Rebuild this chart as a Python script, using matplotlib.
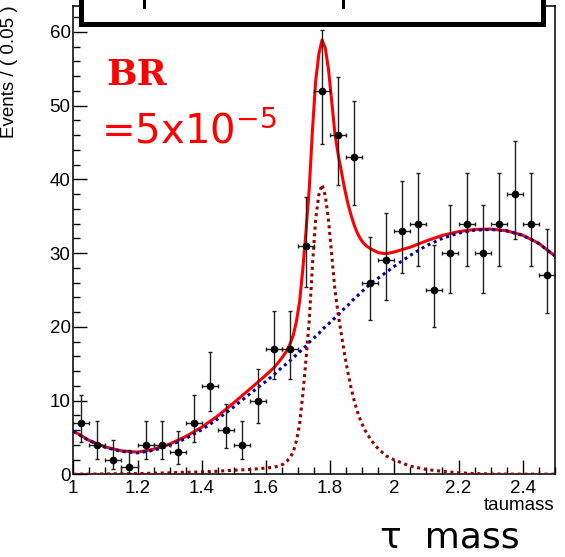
import math
import numpy as np
import matplotlib
matplotlib.use("Agg")
import matplotlib.pyplot as plt
from matplotlib.patches import Rectangle
from matplotlib.lines import Line2D
from matplotlib.ticker import MultipleLocator, FuncFormatter

plt.rcParams['font.family'] = ['Liberation Sans', 'DejaVu Sans']

# ---- data: events per 0.05 bin ----
bin_centers = [1.025, 1.075, 1.125, 1.175, 1.225, 1.275, 1.325, 1.375, 1.425, 1.475,
               1.525, 1.575, 1.625, 1.675, 1.725, 1.775, 1.825, 1.875, 1.925, 1.975,
               2.025, 2.075, 2.125, 2.175, 2.225, 2.275, 2.325, 2.375, 2.425, 2.475]
counts = [7, 4, 2, 1, 4, 4, 3, 7, 12, 6,
          4, 10, 17, 17, 31, 52, 46, 43, 26, 29,
          33, 34, 25, 30, 34, 30, 34, 38, 34, 27]

# ---- fit curves ----
curve_x = [1.00, 1.05, 1.10, 1.15, 1.20, 1.25, 1.30, 1.35, 1.40, 1.45, 1.50, 1.55, 1.60, 1.625,
           1.645, 1.655, 1.665, 1.675, 1.685, 1.695, 1.705, 1.715, 1.725, 1.735, 1.745, 1.755,
           1.765, 1.775, 1.785, 1.795, 1.805, 1.815, 1.825, 1.835, 1.845, 1.855, 1.865, 1.875,
           1.885, 1.895, 1.905, 1.915,
           1.93, 1.95, 1.975, 2.00, 2.05, 2.10, 2.15, 2.20, 2.25, 2.30, 2.35, 2.40, 2.45, 2.50]
bkg_y = [5.85, 4.55, 3.65, 3.10, 2.90, 3.25, 3.90, 4.85, 6.05, 7.50, 9.15, 10.9, 12.6, 13.5,
         14.3, 14.7, 15.0, 15.4, 15.8, 16.2, 16.6, 17.0, 17.4, 17.9, 18.3, 18.7,
         19.1, 19.6, 20.0, 20.4, 20.8, 21.2, 21.6, 22.1, 22.5, 22.9, 23.4, 23.8,
         24.2, 24.6, 25.0, 25.4,
         26.0, 26.6, 27.4, 28.2, 29.7, 31.0, 32.0, 32.7, 33.1, 33.2, 33.0, 32.4, 31.3, 29.6]
sig_y = [0.02, 0.03, 0.05, 0.08, 0.10, 0.15, 0.20, 0.27, 0.33, 0.42, 0.55, 0.65, 0.85, 0.95,
         1.2, 1.4, 1.75, 2.25, 3.0, 4.5, 6.8, 10.8, 15.6, 20.8, 28.3, 34.6,
         37.9, 39.3, 37.8, 34.5, 29.8, 25.0, 21.8, 19.0, 16.3, 13.9, 11.8, 10.0,
         8.5, 7.3, 6.3, 5.5,
         4.5, 3.45, 2.5, 1.95, 1.1, 0.65, 0.4, 0.2, 0.1, 0.05, 0.03, 0.02, 0.02, 0.02]

x_ticks = [1.0, 1.2, 1.4, 1.6, 1.8, 2.0, 2.2, 2.4]


def pois_cdf(n, mu):
    term = math.exp(-mu)
    total = term
    for k in range(1, n + 1):
        term *= mu / k
        total += term
    return total


def solve(f, lo, hi):
    for _ in range(100):
        mid = 0.5 * (lo + hi)
        if f(mid) > 0:
            lo = mid
        else:
            hi = mid
    return 0.5 * (lo + hi)


def poisson_interval(n, a=0.158655):
    top = n + 10 * math.sqrt(n + 1) + 10
    up = solve(lambda m: pois_cdf(n, m) - a, 0.0, top)
    low = 0.0 if n == 0 else solve(lambda m: a - (1 - pois_cdf(n - 1, m)), 0.0, top)
    return low, up


W, H = 565, 557
fig = plt.figure(figsize=(W / 100, H / 100), dpi=100)
ax = fig.add_axes([73.3 / W, 1 - 474.3 / H, (554.8 - 73.3) / W, (474.3 - 6) / H])

cx = np.array(curve_x)
bkg = np.array(bkg_y)
sig = np.array(sig_y)
total = bkg + sig

ax.plot(cx, total, color='#ff0000', lw=2.2, zorder=2)
ax.plot(cx, bkg, color='#0000a0', lw=2.2, dashes=(1.0, 1.2), dash_capstyle='butt', zorder=3)
ax.plot(cx, sig, color='#990000', lw=2.2, dashes=(1.0, 1.2), dash_capstyle='butt', zorder=3)

ylo, yhi = [], []
for n in counts:
    lo, up = poisson_interval(n)
    ylo.append(n - lo)
    yhi.append(up - n)
ax.errorbar(bin_centers, counts, xerr=0.025, yerr=[ylo, yhi], fmt='o', color='black',
            ms=4.5, elinewidth=1.0, ecolor='#202020', capsize=1.5, capthick=1.0, zorder=4)

ax.set_xlim(1.0, 2.5)
ax.set_ylim(0, 63.5)
ax.xaxis.set_major_locator(MultipleLocator(0.2))
ax.xaxis.set_minor_locator(MultipleLocator(0.05))
ax.yaxis.set_major_locator(MultipleLocator(10))
ax.yaxis.set_minor_locator(MultipleLocator(2))
ax.set_xticks(x_ticks)
ax.xaxis.set_major_formatter(FuncFormatter(lambda v, p: f'{v:g}'))
ax.tick_params(which='both', direction='in', top=False, right=False, width=1.0,
               labelsize=13.5)
ax.tick_params(which='major', length=10)
ax.tick_params(which='minor', length=5)
ax.tick_params(axis='x', pad=4)
ax.tick_params(axis='y', pad=2)
for s in ax.spines.values():
    s.set_linewidth(1.1)

fig.text(10 / W, 1 - 5 / H, 'Events / ( 0.05 )', rotation=90, ha='center', va='top',
         fontsize=13.5)
fig.text(554 / W, 1 - 509.5 / H, 'taumass', ha='right', va='baseline', fontsize=13.5)
fig.text(520 / W, 1 - 548 / H, 'τ  mass', ha='right', va='baseline', fontsize=26,
         family='DejaVu Sans')

fig.text(106 / W, 1 - 85 / H, 'BR', color='#ff0000', family='DejaVu Serif',
         weight='bold', fontsize=26, va='baseline')
fig.text(101 / W, 1 - 143 / H, r'=5x10$^{\mathregular{-5}}$', color='#ff0000',
         family='DejaVu Sans', fontsize=29, va='baseline')

# header box cut off by the top edge
fig.add_artist(Rectangle((80.5 / W, 1 - 23.5 / H), (542.5 - 80.5) / W, 60 / H,
                         transform=fig.transFigure, facecolor='white', edgecolor='black',
                         lw=3.6, clip_on=False, zorder=10))
for px in [144, 343]:
    fig.add_artist(Line2D([px / W, px / W], [1.0, 1 - 7 / H], transform=fig.transFigure,
                          color='black', lw=2.2, zorder=11))

fig.savefig('out.png', dpi=100)
